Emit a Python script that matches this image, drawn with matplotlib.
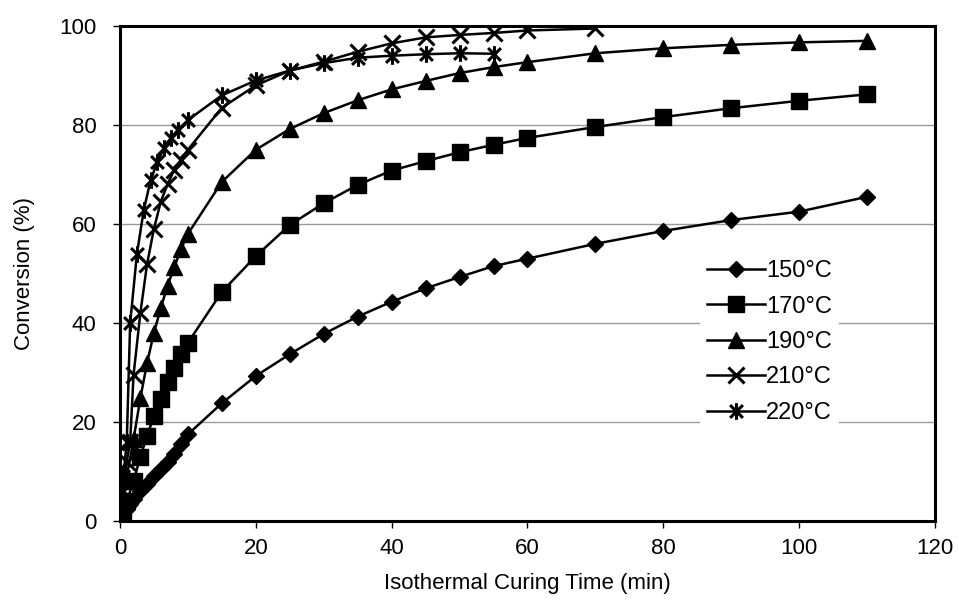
import numpy as np
import matplotlib
matplotlib.use("Agg")
import matplotlib.pyplot as plt
from matplotlib.path import Path

plt.rcParams['font.family'] = ['Liberation Sans', 'DejaVu Sans']

# Conversion (%) vs isothermal curing time (min)
t_150 = [0, 0.5, 1, 1.5, 2, 3, 4, 5, 6, 7, 8, 9, 10, 15, 20, 25, 30, 35, 40, 45, 50, 55, 60, 70, 80, 90, 100, 110]
c_150 = [0, 1, 2.5, 3.5, 4.5, 6, 7.5, 9, 10.5, 12, 13.5, 15.5, 17.5, 23.8, 29.3, 33.7, 37.8, 41.3, 44.3, 47, 49.3, 51.5, 53, 56, 58.6, 60.8, 62.5, 65.5]

t_170 = [0, 0.5, 1, 2, 3, 4, 5, 6, 7, 8, 9, 10, 15, 20, 25, 30, 35, 40, 45, 50, 55, 60, 70, 80, 90, 100, 110]
c_170 = [0, 2, 4, 8, 13, 17.2, 21.2, 24.6, 28, 31, 33.7, 36, 46.3, 53.5, 59.8, 64.2, 67.9, 70.8, 72.7, 74.5, 76, 77.4, 79.6, 81.6, 83.4, 84.9, 86.2]

t_190 = [0, 0.5, 1, 2, 3, 4, 5, 6, 7, 8, 9, 10, 15, 20, 25, 30, 35, 40, 45, 50, 55, 60, 70, 80, 90, 100, 110]
c_190 = [0, 4, 9, 16.5, 24.8, 32, 38, 43, 47.5, 51.3, 55, 58, 68.5, 75, 79.2, 82.4, 85, 87.2, 88.9, 90.5, 91.7, 92.7, 94.5, 95.5, 96.2, 96.7, 97]

t_210 = [0, 0.5, 1, 1.5, 2, 3, 4, 5, 6, 7, 8, 9, 10, 15, 20, 25, 30, 35, 40, 45, 50, 55, 60, 70]
c_210 = [0, 6, 12, 16, 29.5, 42, 52, 59, 64.5, 68, 71, 73, 75, 83.5, 88, 91, 92.8, 94.8, 96.5, 97.7, 98.2, 98.6, 99.1, 99.5]

t_220 = [0, 0.5, 1, 1.5, 2.5, 3.5, 4.5, 5.5, 6.5, 7.5, 8.5, 10, 15, 20, 25, 30, 35, 40, 45, 50, 55]
c_220 = [0, 9, 16, 40, 54, 62.8, 68.8, 72.5, 75.4, 77.4, 79, 81, 86, 89, 91, 92.5, 93.6, 94, 94.3, 94.5, 94.4]

labels = ['150°C', '170°C', '190°C', '210°C', '220°C']

# asterisk marker: x with a vertical bar through it
star = Path([(-1, -1), (1, 1), (-1, 1), (1, -1), (0, -1.3), (0, 1.3)],
            [Path.MOVETO, Path.LINETO, Path.MOVETO, Path.LINETO, Path.MOVETO, Path.LINETO])

fig = plt.figure(figsize=(9.59, 6.01), dpi=100)
ax = fig.add_axes([0.1251, 0.1331, 0.8499, 0.8236])

lw = 1.8
ax.plot(t_150, c_150, color='black', lw=lw, marker='D', ms=8, label=labels[0])
ax.plot(t_170, c_170, color='black', lw=lw, marker='s', ms=11, label=labels[1])
ax.plot(t_190, c_190, color='black', lw=lw, marker='^', ms=12, label=labels[2])
ax.plot(t_210, c_210, color='black', lw=lw, marker='x', ms=12, mew=2.2, label=labels[3])
ax.plot(t_220, c_220, color='black', lw=lw, marker=star, ms=12, mew=2.2, label=labels[4])

ax.set_xlim(0, 120)
ax.set_ylim(0, 100)
ax.set_xticks(np.arange(0, 121, 20))
ax.set_yticks(np.arange(0, 101, 20))
ax.grid(axis='y', color='#9a9a9a', lw=1)
ax.set_axisbelow(True)
for s in ax.spines.values():
    s.set_linewidth(2.2)
ax.tick_params(direction='out', length=5, width=1, labelsize=16, pad=7)
ax.tick_params(axis='y', pad=12)

ax.set_xlabel('Isothermal Curing Time (min)', fontsize=16, labelpad=10)
ax.set_ylabel('Conversion (%)', fontsize=16, labelpad=17)

# white box without border hides the gridlines behind the legend, like Excel
leg = ax.legend(loc='upper left', bbox_to_anchor=(0.73, 0.579), bbox_transform=fig.transFigure,
                frameon=True, fancybox=False, fontsize=17, handlelength=2.45, handletextpad=0.05,
                labelspacing=0.57, borderpad=0.3, borderaxespad=0)
leg.get_frame().set_facecolor('white')
leg.get_frame().set_edgecolor('none')
leg.get_frame().set_alpha(1)

fig.savefig('out.png', dpi=100)
